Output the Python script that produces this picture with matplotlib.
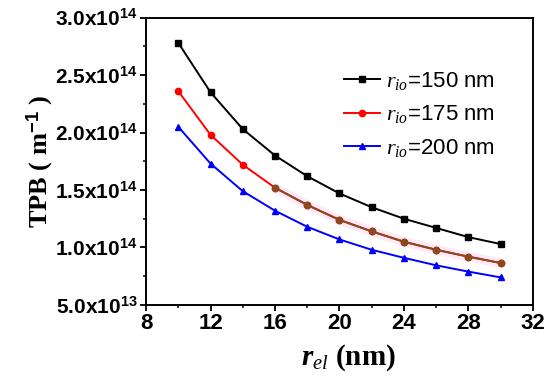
import numpy as np
import matplotlib
matplotlib.use('Agg')
import matplotlib.pyplot as plt
from matplotlib.ticker import MultipleLocator, FixedLocator

# ------------------- Data -------------------
r_el = [10, 12, 14, 16, 18, 20, 22, 24, 26, 28, 30]
tpb_150 = [2.78, 2.35, 2.03, 1.80, 1.62, 1.47, 1.35, 1.25, 1.17, 1.09, 1.03]
tpb_175 = [2.36, 1.98, 1.72, 1.52, 1.37, 1.24, 1.14, 1.05, 0.98, 0.92, 0.865]
tpb_200 = [2.05, 1.73, 1.49, 1.32, 1.18, 1.07, 0.98, 0.91, 0.845, 0.79, 0.74]
scale = 1e14

y_ticks = [0.5e14, 1.0e14, 1.5e14, 2.0e14, 2.5e14, 3.0e14]
y_tick_labels = ['5.0x10$^{13}$', '1.0x10$^{14}$', '1.5x10$^{14}$',
                 '2.0x10$^{14}$', '2.5x10$^{14}$', '3.0x10$^{14}$']
x_ticks = [8, 12, 16, 20, 24, 28, 32]

# ------------------- Fonts -------------------
plt.rcParams['font.family'] = 'Liberation Sans'
plt.rcParams['mathtext.fontset'] = 'custom'
plt.rcParams['mathtext.rm'] = 'Liberation Sans:bold'
plt.rcParams['mathtext.it'] = 'Liberation Serif:italic'
plt.rcParams['mathtext.bf'] = 'Liberation Serif:bold:italic'

fig = plt.figure(figsize=(5.5, 3.82), dpi=100)
ax = fig.add_axes([0.2655, 0.2016, 0.7035, 0.7525])

y150 = np.array(tpb_150) * scale
y175 = np.array(tpb_175) * scale
y200 = np.array(tpb_200) * scale

ax.plot(r_el, y150, '-s', color='black', lw=1.4, ms=4, label=r'$r_{io}$=150 nm')
ax.plot(r_el, y175, '-o', color='red', lw=1.4, ms=4.5, label=r'$r_{io}$=175 nm')
# brownish overlay on the tail of the red curve, as in the original image
ax.plot(r_el[3:], y175[3:], '-', color='#feeaf8', lw=7, zorder=1.5, solid_capstyle='butt')
ax.plot(r_el[3:], y175[3:], '-o', color='#8b4a1e', lw=1.4, ms=4.5, zorder=2.5)
ax.plot(r_el, y200, '-^', color='blue', lw=1.4, ms=4.5, label=r'$r_{io}$=200 nm')

ax.set_xlim(8, 32)
ax.set_ylim(0.5e14, 3.0e14)
ax.xaxis.set_major_locator(FixedLocator(x_ticks))
ax.xaxis.set_minor_locator(MultipleLocator(2))
ax.yaxis.set_major_locator(FixedLocator(y_ticks))
ax.yaxis.set_minor_locator(MultipleLocator(0.25e14))
ax.set_yticklabels(y_tick_labels)
ax.set_xticklabels([str(v) for v in x_ticks])

for lab in ax.get_xticklabels():
    lab.set_fontweight('bold')
    lab.set_fontsize(16)
for lab in ax.get_yticklabels():
    lab.set_fontweight('bold')
    lab.set_fontsize(15)

ax.tick_params(which='major', direction='out', length=4, width=1.3, pad=2)
ax.tick_params(which='minor', direction='out', length=2.5, width=1.1)
for s in ax.spines.values():
    s.set_linewidth(1.4)

ax.set_ylabel('TPB ( m$^{-1}$ )', family='Liberation Serif', fontweight='bold',
              fontsize=19, labelpad=0)
ax.set_xlabel(r'$\mathbf{r}_{el}$ (nm)', family='Liberation Serif',
              fontweight='bold', fontsize=21)
ax.xaxis.set_label_coords(0.522, -0.13)

leg = ax.legend(loc='upper right', bbox_to_anchor=(0.954, 0.887), frameon=False,
                fontsize=16, handlelength=1.6, handletextpad=0.3,
                labelspacing=0.51)

fig.savefig('out.png', dpi=100)
